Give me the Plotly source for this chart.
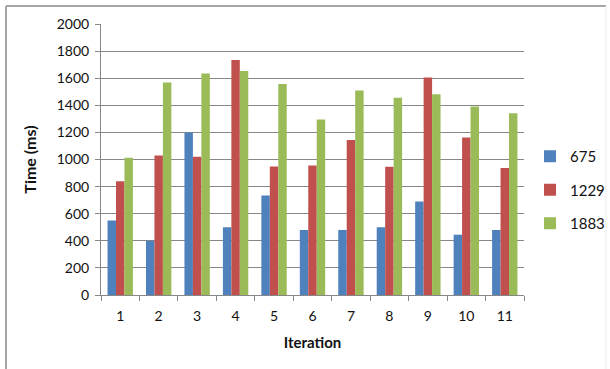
import plotly.graph_objects as go

# Iteration numbers on the category axis
iterations = ["1", "2", "3", "4", "5", "6", "7", "8", "9", "10", "11"]

# Timing per iteration (ms) for each series
series_names = ["675", "1229", "1883"]
times_675 = [550, 400, 1200, 500, 735, 480, 480, 500, 690, 445, 480]
times_1229 = [840, 1030, 1020, 1735, 948, 955, 1143, 946, 1605, 1162, 937]
times_1883 = [1012, 1568, 1635, 1653, 1558, 1295, 1510, 1455, 1482, 1392, 1342]

colors = ["#4F81BD", "#C0504D", "#9BBB59"]
font_family = "Lato, 'Open Sans', Arial, sans-serif"

fig = go.Figure()
for i, (name, vals) in enumerate(zip(series_names, [times_675, times_1229, times_1883])):
    fig.add_trace(go.Bar(
        x=iterations, y=vals, name=name,
        marker=dict(color=colors[i], line=dict(width=0)),
        legendgroup=name,
    ))

# Plot-area geometry in pixels, used to place the outer frame
W, H = 610, 369
L, R, T, B = 101, 86, 24, 74
pw, ph = W - L - R, H - T - B

def px_x(px):
    return (px - L) / pw

def px_y(py):
    return (H - B - py) / ph

# Chart frame: top and left edges, faint right edge
frame = [
    (6, 6, 606, 6, "#8a8a8a"),
    (6, 6, 6, 369, "#8a8a8a"),
    (606, 6, 606, 369, "#ececec"),
]
for x0, y0, x1, y1, c in frame:
    fig.add_shape(
        type="line", xref="paper", yref="paper",
        x0=px_x(x0), y0=px_y(y0), x1=px_x(x1), y1=px_y(y1),
        line=dict(color=c, width=1.5 if c == "#8a8a8a" else 1), layer="below",
    )

fig.update_layout(
    width=W, height=H,
    margin=dict(l=L, r=R, t=T, b=B, pad=0, autoexpand=False),
    paper_bgcolor="white", plot_bgcolor="white",
    barmode="group", bargap=0.34, bargroupgap=0,
    font=dict(family=font_family, size=14, color="#111111"),
    showlegend=True,
    legend=dict(
        x=px_x(530), xanchor="left", y=px_y(190), yanchor="middle",
        font=dict(size=15, color="#111111"),
        tracegroupgap=11, itemwidth=30,
        bgcolor="rgba(0,0,0,0)",
    ),
    xaxis=dict(
        title=dict(text="<b>Iteration</b>", font=dict(size=15), standoff=14),
        showgrid=False,
        showline=True, linecolor="#878787", linewidth=1,
        ticks="outside", tickson="boundaries", ticklen=5, tickcolor="#878787",
        tickfont=dict(size=14), ticklabelstandoff=8,
    ),
    yaxis=dict(
        title=dict(text="<b>Time (ms)</b>", font=dict(size=16), standoff=16),
        range=[0, 2000], dtick=200,
        showgrid=True, gridcolor="#878787", gridwidth=1,
        showline=True, linecolor="#878787", linewidth=1,
        ticks="outside", ticklen=5, tickcolor="#878787",
        tickfont=dict(size=14), ticklabelstandoff=3,
        zeroline=False,
    ),
)

fig.write_html("out.html")
